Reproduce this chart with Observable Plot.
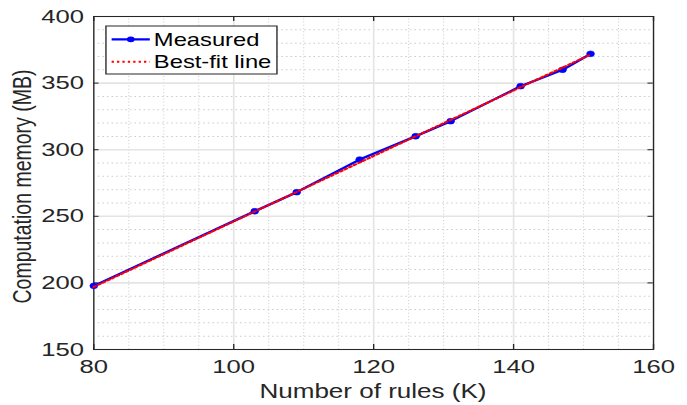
<!DOCTYPE html>
<html>
<head>
<meta charset="utf-8">
<script src="https://cdn.jsdelivr.net/npm/d3@7"></script>
<script src="https://cdn.jsdelivr.net/npm/@observablehq/plot@0.6"></script>
<style>
  html, body { margin: 0; padding: 0; background: #fff; }
  #chart { width: 687px; height: 405px; overflow: hidden; }
</style>
</head>
<body>
<div id="chart"></div>
<script>
// ---- data ----
const rulesK   = [80, 103, 109, 118, 126, 131, 141, 147, 151];
const memoryMB = [197.8, 253.8, 268.1, 292.6, 310.1, 321.4, 347.7, 360, 372];
const fitX = [80, 151];
const fitY = [197.0, 371.5];
const xTicks = [80, 100, 120, 140, 160];
const yTicks = [150, 200, 250, 300, 350, 400];
const xMinor = [85, 90, 95, 105, 110, 115, 125, 130, 135, 145, 150, 155];
const yMinor = [160, 170, 180, 190, 210, 220, 230, 240, 260, 270, 280, 290, 310, 320, 330, 340, 360, 370, 380, 390];
const xLabel = "Number of rules (K)";
const yLabel = "Computation memory (MB)";
const legendNames = ["Measured", "Best-fit line"];

const measured = rulesK.map((x, i) => ({x, y: memoryMB[i]}));
const fit = fitX.map((x, i) => ({x, y: fitY[i]}));

// base (unstretched) drawing width; the SVG is stretched horizontally to 687px
const W = 509, H = 405;
const ML = 69, MR = 25.3, MT = 16, MB = 56;
const ink = "#262626";
const font = "'Liberation Sans', Arial, Helvetica, sans-serif";
const tickLenY = 250 * 5 / (H - MT - MB);   // 5px inward tick in y units
const tickLenX = 80 * 4 / (W - ML - MR);    // 4px (base) inward tick in x units
const fitDash = "1.7,2.3";

const svg = Plot.plot({
  width: W, height: H,
  marginLeft: ML, marginRight: MR, marginTop: MT, marginBottom: MB,
  style: {fontFamily: font, fontSize: "19px", color: ink, background: "white"},
  x: {domain: [80, 160], label: null},
  y: {domain: [150, 400], label: null},
  marks: [
    Plot.ruleX(xMinor, {x: d => d, y1: 150, y2: 400, stroke: "#cdcdcd", strokeDasharray: "1,2.2", strokeWidth: 0.8}),
    Plot.ruleY(yMinor, {y: d => d, x1: 80, x2: 160, stroke: "#cdcdcd", strokeDasharray: "1.2,2.2", strokeWidth: 1}),
    Plot.ruleX(xTicks, {x: d => d, y1: 150, y2: 400, stroke: "#e4e4e4", strokeWidth: 1.2}),
    Plot.ruleY(yTicks, {y: d => d, x1: 80, x2: 160, stroke: "#e4e4e4", strokeWidth: 1.6}),
    Plot.axisX(xTicks, {anchor: "bottom", tickSize: 0, tickPadding: 10.5, fill: ink, label: null}),
    Plot.axisY(yTicks, {anchor: "left", tickSize: 0, tickPadding: 7.3, fill: ink, label: null}),
    Plot.ruleX(xTicks, {x: d => d, y1: 150, y2: 150 + tickLenY, stroke: ink, strokeWidth: 1}),
    Plot.ruleX(xTicks, {x: d => d, y1: 400, y2: 400 - tickLenY, stroke: ink, strokeWidth: 1}),
    Plot.ruleY(yTicks, {y: d => d, x1: 80, x2: 80 + tickLenX, stroke: ink, strokeWidth: 1}),
    Plot.ruleY(yTicks, {y: d => d, x1: 160, x2: 160 - tickLenX, stroke: ink, strokeWidth: 1}),
    Plot.frame({stroke: ink, strokeWidth: 1}),
    Plot.line(measured, {x: "x", y: "y", stroke: "#0000ff", strokeWidth: 2.2}),
    Plot.dot(measured, {x: "x", y: "y", r: 2.9, fill: "#0000ff", stroke: "#0000ff", strokeWidth: 0.5}),
    Plot.line(fit, {x: "x", y: "y", stroke: "#ff0000", strokeWidth: 2, strokeDasharray: fitDash})
  ]
});

// axis titles and legend (base coordinates)
const g = d3.select(svg);
g.append("text")
  .attr("x", ML + (W - ML - MR) / 2).attr("y", 398)
  .attr("text-anchor", "middle").attr("fill", ink)
  .style("font-family", font).style("font-size", "19.3px")
  .text(xLabel);
g.append("text")
  .attr("transform", `translate(23,${MT + (H - MT - MB) / 2 + 4}) rotate(-90)`)
  .attr("text-anchor", "middle").attr("fill", ink)
  .style("font-family", font).style("font-size", "19.5px")
  .text(yLabel);

const lg = g.append("g").attr("text-anchor", "start");
lg.append("rect").attr("x", 78.5).attr("y", 26).attr("width", 126.7).attr("height", 48)
  .attr("fill", "white").attr("stroke", ink).attr("stroke-width", 1);
lg.append("line").attr("x1", 82.7).attr("x2", 111).attr("y1", 39.3).attr("y2", 39.3)
  .attr("stroke", "#0000ff").attr("stroke-width", 2.2);
lg.append("circle").attr("cx", 96.9).attr("cy", 39.3).attr("r", 2.9).attr("fill", "#0000ff");
lg.append("line").attr("x1", 82.7).attr("x2", 111).attr("y1", 61.7).attr("y2", 61.7)
  .attr("stroke", "#ff0000").attr("stroke-width", 2).attr("stroke-dasharray", fitDash);
lg.selectAll("text.lt").data(legendNames).join("text")
  .attr("class", "lt")
  .attr("x", 114).attr("y", (d, i) => 45.8 + i * 22.3)
  .attr("text-anchor", "start")
  .attr("fill", "#000").style("font-family", font).style("font-size", "17.6px")
  .text(d => d);

// stretch horizontally like the reference image
svg.setAttribute("viewBox", `0 0 ${W} ${H}`);
svg.setAttribute("preserveAspectRatio", "none");
svg.setAttribute("width", 687);
svg.setAttribute("height", 405);
svg.style.width = "687px";
svg.style.height = "405px";
svg.style.maxWidth = "none";
document.getElementById("chart").appendChild(svg);
</script>
</body>
</html>
